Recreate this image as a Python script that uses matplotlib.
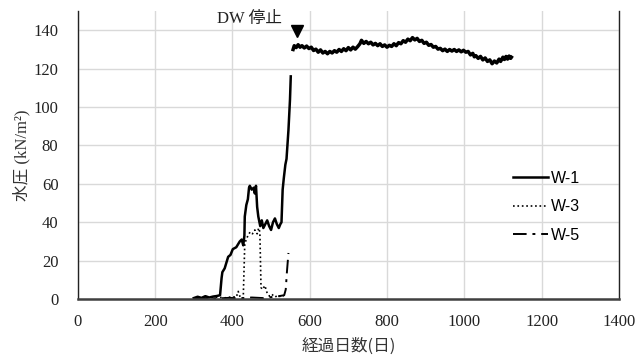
import matplotlib
matplotlib.use('Agg')
import matplotlib.pyplot as plt

plt.rcParams['font.family'] = ['Liberation Serif', 'Noto Sans CJK JP']

# W-1 (solid) before DW stop
w1_days_a = [300, 310, 320, 330, 340, 350, 360, 368, 372, 374, 380, 389, 395, 401, 410, 419, 424, 428,
             431, 432, 436, 440, 443, 445, 450, 455, 458, 461, 464, 467, 472, 476, 480, 485, 490, 495,
             500, 505, 510, 515, 520, 524, 527, 530, 533, 537, 540, 545, 549, 551]
w1_vals_a = [0.5, 1.2, 0.6, 1.5, 0.8, 1.3, 1.6, 2, 11, 14, 16, 22, 23, 26, 27, 30, 31, 28,
             33, 43, 49, 52, 58, 59, 57, 58, 55, 59, 48, 43, 38, 41, 37, 39, 41, 38,
             36, 40, 42, 39, 37, 39, 40, 57, 63, 70, 73, 88, 104, 116]

# W-1 after DW stop
w1_days_b = [557, 560, 565, 570, 575, 580, 586, 592, 598, 604, 610, 616, 622, 628, 634, 640, 646, 652,
             658, 664, 670, 676, 682, 688, 694, 700, 706, 712, 718, 724, 730, 734, 740, 746, 752, 758,
             764, 770, 776, 782, 788, 794, 800, 806, 812, 818, 824, 830, 836, 842, 848, 854, 860, 866,
             872, 878, 884, 890, 896, 902, 908, 914, 920, 926, 932, 938, 944, 950, 956, 962, 968, 974,
             980, 986, 992, 998, 1004, 1010, 1016, 1022, 1026, 1030, 1036, 1042, 1048, 1054, 1060,
             1066, 1072, 1078, 1084, 1090, 1094, 1100, 1104, 1108, 1112, 1116, 1120, 1122]
w1_vals_b = [130.0, 132.0, 131.0, 132.5, 131.2, 132.0, 130.8, 131.8, 130.5, 131.2, 129.5, 130.2, 128.6,
             129.8, 128.2, 129.0, 127.8, 129.0, 128.2, 129.4, 128.6, 130.0, 129.0, 130.4, 129.4, 131.0,
             129.8, 131.2, 130.2, 131.5, 133.0, 134.8, 133.2, 134.2, 133.0, 133.8, 132.4, 133.2, 132.0,
             133.0, 131.6, 132.4, 131.2, 132.2, 131.6, 133.0, 132.0, 133.6, 133.0, 134.6, 133.8, 135.4,
             134.6, 136.2, 135.0, 135.8, 134.2, 134.8, 133.2, 133.8, 132.2, 132.6, 131.2, 131.6, 130.2,
             130.6, 129.4, 130.2, 129.0, 130.0, 129.2, 130.0, 129.0, 129.8, 128.8, 129.6, 128.6, 129.0,
             127.2, 128.0, 126.2, 126.8, 125.4, 126.4, 124.6, 125.6, 123.8, 124.6, 122.6, 124.0, 123.0,
             125.0, 123.8, 126.0, 124.8, 126.4, 125.0, 126.6, 125.4, 126.0]

# W-3 (dotted)
w3_days = [300, 320, 340, 360, 380, 400, 410, 415, 420, 428, 432, 436, 440, 446, 452, 458, 464, 468,
           471, 474, 478, 484, 490, 496, 502, 510, 518, 526, 532]
w3_vals = [0.3, 0.8, 0.4, 1.0, 0.6, 1.2, 1.0, 4.0, 1.0, 0.5, 29, 31, 33, 35, 34, 36, 34, 37,
           35, 6, 5, 7, 3, 1.5, 2.5, 1, 2, 1, 1.5]

# W-5 (dash-dot)
w5_days = [300, 330, 360, 390, 420, 450, 480, 500, 520, 534, 538, 541, 545]
w5_vals = [0.2, 0.5, 0.3, 0.6, 0.4, 0.8, 0.5, 1.0, 1.5, 2.0, 5.0, 14.0, 24.0]

dw_day = 567
dw_val = 139.5

fig = plt.figure(figsize=(6.38, 3.59), dpi=100)
ax = fig.add_axes([0.122, 0.167, 0.848, 0.802])

ax.plot(w1_days_a, w1_vals_a, color='black', lw=1.8, label='W-1')
ax.plot(w1_days_b, w1_vals_b, color='black', lw=2.5)
ax.plot(w3_days, w3_vals, color='black', lw=1.2, ls=':', label='W-3')
ax.plot(w5_days, w5_vals, color='black', lw=1.4, ls=(0, (7, 3, 1.5, 3)), label='W-5')

ax.plot([dw_day], [dw_val], marker='v', color='black', markersize=8, ls='none')
ax.text(443, 145.8, 'DW 停止', fontsize=12, ha='center', va='center', color='#222222')

ax.set_xlim(0, 1400)
ax.set_ylim(0, 150)
ax.set_xticks(range(0, 1401, 200))
ax.set_yticks(range(0, 141, 20))
ax.grid(True, color='#d9d9d9', lw=1)
ax.set_axisbelow(True)
ax.tick_params(length=0, labelsize=12, colors='#222222')
ax.tick_params(axis='x', pad=11)
ax.tick_params(axis='y', pad=14)
for s in ax.spines.values():
    s.set_color('#222222')
    s.set_linewidth(1.0)
ax.spines['top'].set_visible(False)
ax.spines['bottom'].set_linewidth(1.8)
ax.spines['bottom'].set_color('#404040')

ax.set_xlabel('経過日数(日)', fontsize=12, family=['Noto Sans CJK JP'], color='#333333', labelpad=5)
ax.set_ylabel('水圧 (kN/m²)', fontsize=12, color='#333333', labelpad=2)

ax.legend(loc='upper left', bbox_to_anchor=(0.782, 0.565), bbox_transform=fig.transFigure,
          frameon=False, handlelength=2.2, handletextpad=0.15, labelspacing=0.85,
          prop={'family': 'Liberation Sans', 'size': 11.5})

fig.savefig('out.png', dpi=100)
